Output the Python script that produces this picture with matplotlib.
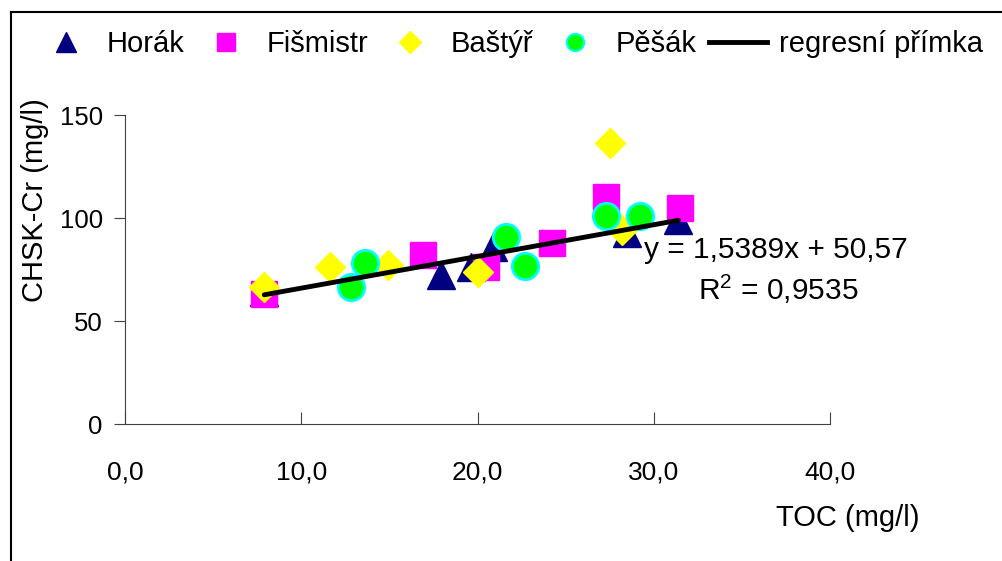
import matplotlib
matplotlib.use("Agg")
import matplotlib.pyplot as plt
from matplotlib.lines import Line2D
from matplotlib.ticker import FuncFormatter

plt.rcParams['font.family'] = ['Liberation Sans', 'DejaVu Sans']
plt.rcParams['mathtext.default'] = 'regular'

# data: TOC (mg/l) vs CHSK-Cr (mg/l)
horak_x = [7.9, 17.9, 19.6, 20.9, 28.5, 31.4]
horak_y = [64, 72.3, 76, 86, 92.7, 99]
fismistr_x = [7.9, 16.9, 20.5, 24.2, 27.3, 31.5]
fismistr_y = [63, 82, 76, 88, 110, 105]
bastyr_x = [7.9, 11.6, 14.9, 20.0, 28.2, 27.5]
bastyr_y = [66.5, 76, 77, 74, 94, 136.5]
pesak_x = [12.8, 13.6, 21.6, 22.7, 27.3, 29.2]
pesak_y = [66.5, 78, 91, 76.7, 101, 101]

# regression line from the chart's equation
slope = 1.5389
intercept = 50.57
line_x = [7.9, 31.4]
r2 = 0.9535

fig = plt.figure(figsize=(10.02, 5.61), dpi=100)
ax = fig.add_axes([0.1248, 0.2442, 0.7036, 0.5508])

ax.plot(horak_x, horak_y, '^', color='#000080', markersize=20, linestyle='none', label='Horák')
ax.plot(fismistr_x, fismistr_y, 's', color='#ff00ff', markersize=19, linestyle='none', label='Fišmistr')
ax.plot(bastyr_x, bastyr_y, 'D', color='#ffff00', markersize=15, linestyle='none', label='Baštýř')
ax.plot(pesak_x, pesak_y, 'o', color='#00ff00', markeredgecolor='#00ffff', markeredgewidth=2,
        markersize=19, linestyle='none', label='Pěšák')
line_y = [slope * x + intercept for x in line_x]
ax.plot(line_x, line_y, color='black', linewidth=3.5, solid_capstyle='round', label='regresní přímka')

ax.set_xlim(0, 40)
ax.set_ylim(0, 150)
ax.set_xticks([0, 10, 20, 30, 40])
ax.set_yticks([0, 50, 100, 150])
ax.xaxis.set_major_formatter(FuncFormatter(lambda v, p: f"{v:.1f}".replace('.', ',')))
for s in ['top', 'right']:
    ax.spines[s].set_visible(False)
for s in ['left', 'bottom']:
    ax.spines[s].set_color('#404040')
ax.tick_params(axis='x', direction='in', length=9, color='#404040', pad=26, labelsize=19)
ax.tick_params(axis='y', direction='out', length=8, color='#404040', pad=8, labelsize=18.5)
ax.patch.set_alpha(0)

eq = f"y = {slope:.4f}x + {intercept:.2f}".replace('.', ',')
ax.text(0.736, 0.563, eq, transform=ax.transAxes, fontsize=21.5, va='center', ha='left')
ax.text(1.04, 0.434, f"R$^2$ = {r2:.4f}".replace('.', ','), transform=ax.transAxes,
        fontsize=21.5, va='center', ha='right')

fig.text(0.035, 0.6435, 'CHSK-Cr (mg/l)', rotation=90, fontsize=21, va='center', ha='center')
fig.text(0.846, 0.0766, 'TOC (mg/l)', fontsize=21, va='center', ha='center')

handles = [
    Line2D([], [], marker='^', color='#000080', linestyle='none', markersize=14.5),
    Line2D([], [], marker='s', color='#ff00ff', linestyle='none', markersize=12.7),
    Line2D([], [], marker='D', color='#ffff00', linestyle='none', markersize=11.5),
    Line2D([], [], marker='o', color='#00ff00', markeredgecolor='#00ffff', markeredgewidth=1.5,
           linestyle='none', markersize=12.5),
    Line2D([], [], color='black', linewidth=3.5),
]
labels = ['Horák', 'Fišmistr', 'Baštýř', 'Pěšák', 'regresní přímka']
fig.legend(handles, labels, loc='center left', bbox_to_anchor=(0.037, 0.9216), ncol=5,
           frameon=False, fontsize=21, handlelength=2.0, handletextpad=0.4, columnspacing=0.42,
           borderaxespad=0, borderpad=0)

# outer frame (top and left edges visible)
fig.add_artist(Line2D([0.0105, 1.0], [0.9786, 0.9786], transform=fig.transFigure, color='black', linewidth=1.5))
fig.add_artist(Line2D([0.0105, 0.0105], [0.0, 0.9786], transform=fig.transFigure, color='black', linewidth=1.5))

fig.savefig('out.png', dpi=100)
